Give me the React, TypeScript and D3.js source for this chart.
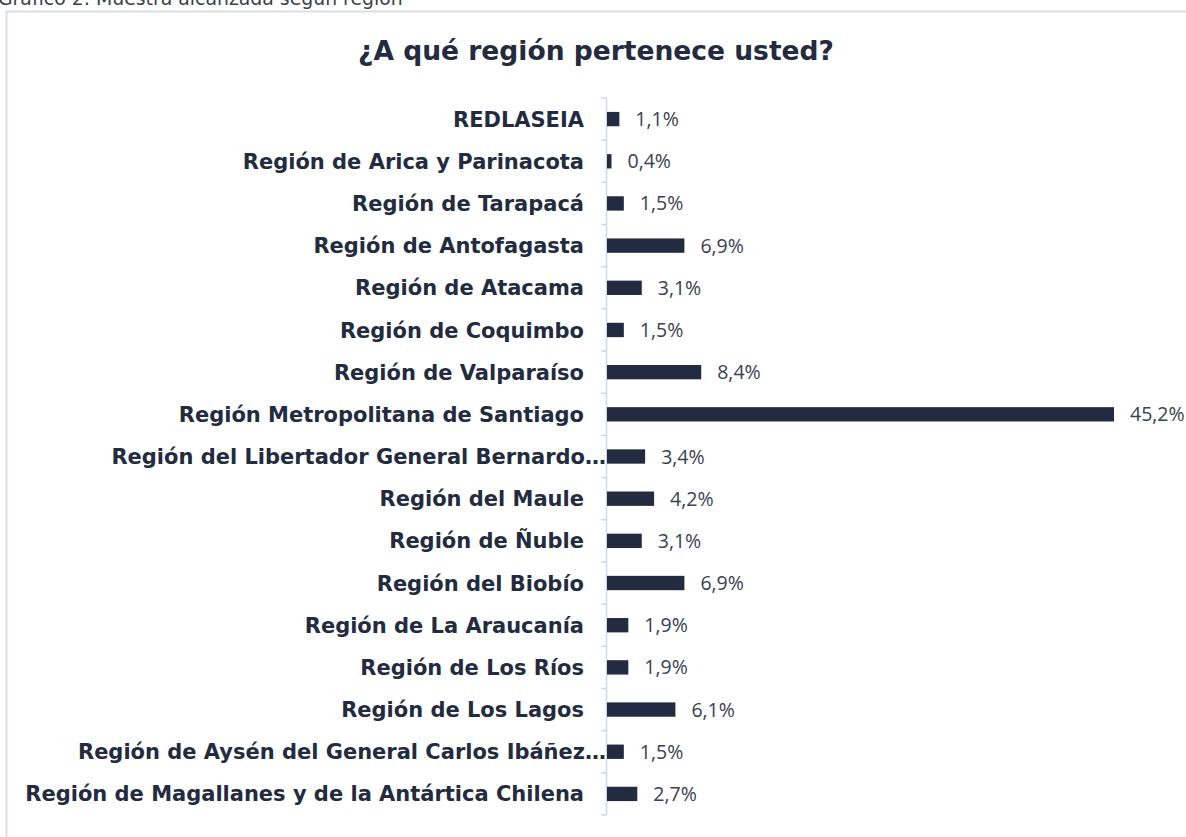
import React from "react";
import * as d3 from "d3";

const categories = [
  "REDLASEIA",
  "Región de Arica y Parinacota",
  "Región de Tarapacá",
  "Región de Antofagasta",
  "Región de Atacama",
  "Región de Coquimbo",
  "Región de Valparaíso",
  "Región Metropolitana de Santiago",
  "Región del Libertador General Bernardo…",
  "Región del Maule",
  "Región de Ñuble",
  "Región del Biobío",
  "Región de La Araucanía",
  "Región de Los Ríos",
  "Región de Los Lagos",
  "Región de Aysén del General Carlos Ibáñez…",
  "Región de Magallanes y de la Antártica Chilena",
];
const values = [1.1, 0.4, 1.5, 6.9, 3.1, 1.5, 8.4, 45.2, 3.4, 4.2, 3.1, 6.9, 1.9, 1.9, 6.1, 1.5, 2.7];
const truncated = [
  "Región del Libertador General Bernardo…",
  "Región de Aysén del General Carlos Ibáñez…",
];
const title = "¿A qué región pertenece usted?";
const caption = "Gráfico 2: Muestra alcanzada según región";

const W = 1186;
const H = 837;
const NAVY = "#222b40";
const LABEL_FONT = "'DejaVu Sans', sans-serif";

function fitSize(text: string, target: number, weight: string, family: string): number {
  try {
    const ctx = document.createElement("canvas").getContext("2d");
    if (!ctx) return 20;
    ctx.font = `${weight} 100px ${family}`;
    const w = ctx.measureText(text).width;
    return (100 * target) / w;
  } catch (e) {
    return 20;
  }
}

export default function App() {
  const x = d3.scaleLinear().domain([0, 45.2]).range([607, 1114]);
  const y = d3.scaleBand<string>().domain(categories).range([98, 815]).paddingInner(0.66).paddingOuter(0.33);
  const fmt = (v: number) => v.toFixed(1).replace(".", ",") + "%";
  const bounds = d3.range(categories.length + 1).map((i) => 98 + (i * (815 - 98)) / categories.length);
  const labelSize = fitSize(categories[categories.length - 1], 559, "bold", LABEL_FONT);
  const titleSize = fitSize(title, 476, "bold", LABEL_FONT);
  const captionSize = fitSize(caption, 405, "normal", LABEL_FONT);
  return (
    <svg width={W} height={H} style={{ position: "absolute", left: 0, top: 0 }}>
      <rect x={0} y={0} width={W} height={H} fill="#ffffff" />
      <text x={-2} y={5} fontFamily={LABEL_FONT} fontSize={captionSize} fill="#3a3f4a">
        {caption}
      </text>
      <rect x={6.5} y={11.5} width={W + 20} height={H + 20} fill="#ffffff" stroke="#d9dee9" strokeWidth={2} />
      <text x={596} y={60} textAnchor="middle" fontFamily={LABEL_FONT} fontWeight={700} fontSize={titleSize} fill={NAVY}>
        {title}
      </text>
      <line x1={606.5} x2={606.5} y1={98} y2={815} stroke="#d0d7e5" strokeWidth={1.5} />
      {bounds.map((b, i) => (
        <line key={i} x1={601} x2={606.5} y1={b} y2={b} stroke="#d0d7e5" strokeWidth={1.5} />
      ))}
      {categories.map((c, i) => {
        const cy = (y(c) as number) + y.bandwidth() / 2;
        const isT = truncated.includes(c);
        return (
          <g key={c}>
            <rect x={x(0)} y={y(c)} width={x(values[i]) - x(0)} height={y.bandwidth()} fill={NAVY} />
            <text
              x={isT ? 606 : 584}
              y={cy}
              dy="0.36em"
              textAnchor="end"
              fontFamily={LABEL_FONT}
              fontWeight={700}
              fontSize={labelSize}
              fill={NAVY}
            >
              {c}
            </text>
            <text x={x(values[i]) + 16} y={cy} dy="0.36em" fontFamily="'Open Sans', sans-serif" fontSize={19.5} fill="#3a4150">
              {fmt(values[i])}
            </text>
          </g>
        );
      })}
    </svg>
  );
}
